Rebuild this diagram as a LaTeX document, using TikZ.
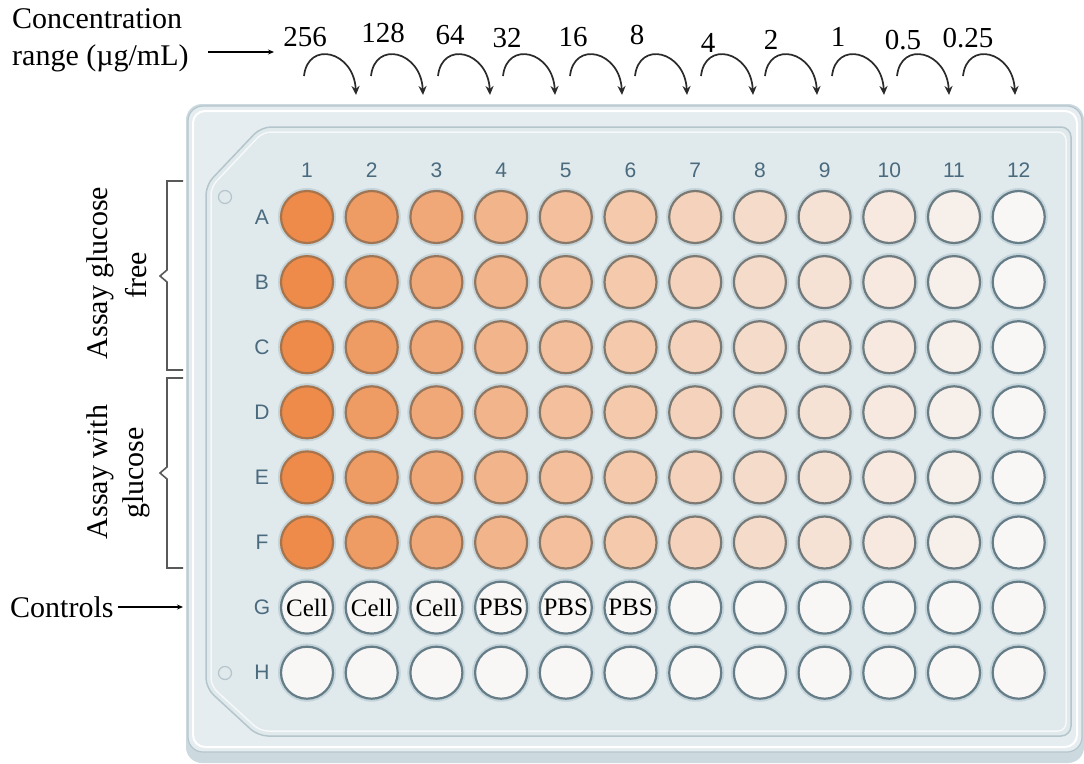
\documentclass[tikz,border=0pt]{standalone}
\usepackage{fontspec}
\setmainfont{Liberation Serif}
\newfontfamily\sansf{Liberation Sans}
\usetikzlibrary{arrows.meta}
\definecolor{orng}{HTML}{EE8B4A}
\definecolor{wwhite}{HTML}{F8F7F6}
\definecolor{obord}{HTML}{A8744C}
\definecolor{gbord}{HTML}{667C86}
\definecolor{platefill}{HTML}{E6EDF0}
\definecolor{plateline}{HTML}{B4C5CC}
\definecolor{platedark}{HTML}{CCDAE0}
\definecolor{innerfill}{HTML}{E0E9EC}
\definecolor{labelc}{HTML}{4A6A7E}
\definecolor{halo}{HTML}{C4D5DC}
\definecolor{arcc}{HTML}{2A2A2A}
\begin{document}
\begin{tikzpicture}[x=1pt,y=-1pt,
  txt/.style={font=\fontsize{30}{36}\selectfont, inner sep=0pt},
  num/.style={font=\fontsize{29}{34}\selectfont, inner sep=0pt},
  plab/.style={font=\sansf\fontsize{21}{25}\selectfont, text=labelc, inner sep=0pt},
  well/.style={circle, minimum size=52pt, inner sep=0pt, line width=2.2pt},
  wtxt/.style={font=\fontsize{25}{30}\selectfont},
  curv/.style={draw=arcc, line width=1.7pt, -{Stealth[length=9pt,width=8pt]}},
  thinarrow/.style={draw=black, line width=1.1pt, -{Stealth[length=6pt,width=5pt]}},
  brk/.style={draw=black!65, line width=1.6pt}
]
\useasboundingbox (0,0) rectangle (1084,763);
\fill[white] (0,0) rectangle (1084,763);

% plate
\fill[platedark, rounded corners=16pt] (186,104) rectangle (1084,763);
\filldraw[fill=platefill, draw=plateline, line width=1.2pt, rounded corners=15pt] (188,106) rectangle (1082,752);
\draw[white, line width=2pt, rounded corners=12pt] (193,111) rectangle (1077,747);
% inner panel
\filldraw[fill=innerfill, draw=plateline, line width=1.5pt, rounded corners=10pt]
  (206,185) -- (261,127) -- (1071,127) -- (1071,736) -- (258,736) -- (206,688) -- cycle;
\draw[white!70!innerfill, line width=1.5pt, rounded corners=8pt]
  (211,187) -- (263,132) -- (1066,132) -- (1066,731) -- (260,731) -- (211,686) -- cycle;
\draw[plateline, line width=1.2pt] (225,197) circle (6.5pt);
\draw[plateline, line width=1.2pt] (225,673) circle (6.5pt);

% column numbers and row letters
\foreach \c in {1,...,12} {
  \node[plab] (col\c) at ({307+(\c-1)*64.7},170) {\c};
}
\foreach \r [count=\ri] in {A,B,C,D,E,F,G,H} {
  \node[plab] (row\r) at (262,{217+(\ri-1)*65.1}) {\r};
}

% wells
\foreach \c/\p in {1/100,2/85,3/73,4/62,5/52,6/43,7/34,8/26,9/19,10/13,11/7,12/0} {
  \foreach \r [count=\ri] in {A,B,C,D,E,F} {
    \fill[halo] ({307+(\c-1)*64.7},{217+(\ri-1)*65.1}) circle (29pt);
    \node[well, fill=orng!\p!wwhite, draw=obord!\p!gbord] (w\r\c)
      at ({307+(\c-1)*64.7},{217+(\ri-1)*65.1}) {};
  }
  \foreach \r [count=\ri from 7] in {G,H} {
    \fill[halo] ({307+(\c-1)*64.7},{217+(\ri-1)*65.1}) circle (29pt);
    \node[well, fill=wwhite, draw=gbord] (w\r\c)
      at ({307+(\c-1)*64.7},{217+(\ri-1)*65.1}) {};
  }
}
\foreach \c in {1,2,3} { \node[wtxt] at (wG\c) {Cell}; }
\foreach \c in {4,5,6} { \node[wtxt] at (wG\c) {PBS}; }

% concentration labels
\node[txt, align=left, anchor=north west] (conc) at (12,8) {Concentration\\[1pt]range (µg/mL)};
\coordinate (ca1) at (208,52);
\coordinate (ca2) at (274,52);
\draw[thinarrow] (ca1) -- (ca2);

\foreach \v/\x/\y [count=\i] in {256/305/37,128/383/33,64/450/35,32/507/38,16/573/37,8/637/35,4/708/43,2/771/40,1/838/37,0.5/903/40,0.25/968/38} {
  \node[num] (n\i) at (\x,\y) {\v};
}
\foreach \t [count=\i] in {356,423,490,555,622,687,753,817,884,949,1015} {
  \coordinate (as\i) at (\t-52,76);
  \coordinate (at\i) at (\t,95);
  \draw[curv] (as\i) .. controls +(4,-36) and +(-2,-44) .. (at\i);
}

% brackets
\draw[brk] (183,181) -- (167,181) -- (167,270) -- (160,276) -- (167,282) -- (167,370) -- (183,370);
\draw[brk] (183,378) -- (167,378) -- (167,467) -- (160,473) -- (167,479) -- (167,568) -- (183,568);
\node[txt, rotate=90] (g1) at (100,273) {Assay glucose};
\node[txt, rotate=90] (g2) at (136,275) {free};
\node[txt, rotate=90] (g3) at (100,472) {Assay with};
\node[txt, rotate=90] (g4) at (136,473) {glucose};

% controls
\node[txt, anchor=west] (ctrl) at (10,607) {Controls};
\coordinate (cs) at (118,607);
\coordinate (ce) at (183,607);
\draw[thinarrow] (cs) -- (ce);
\end{tikzpicture}
\end{document}
